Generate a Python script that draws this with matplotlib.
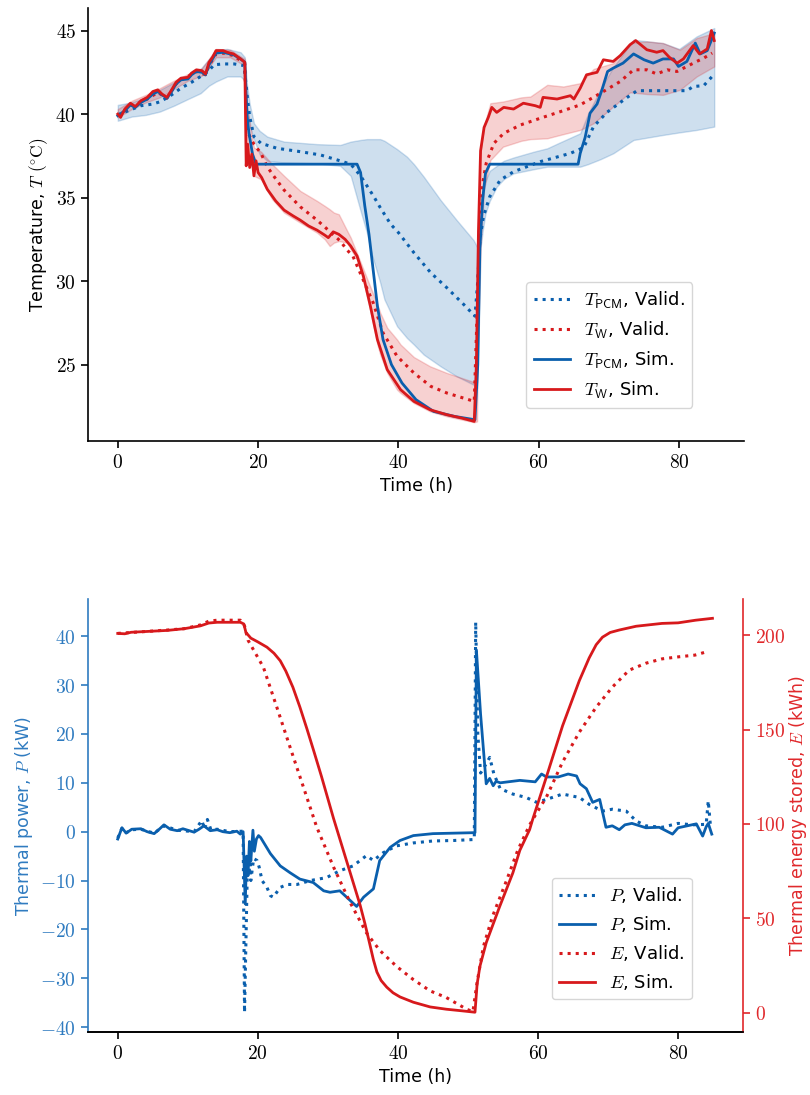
import matplotlib
matplotlib.use("Agg")
import matplotlib.pyplot as plt
from matplotlib.ticker import FuncFormatter

# ---- top panel: temperatures ----
t_w_sim = [0, 0.4, 1.0, 1.8, 2.5, 3.3, 4.2, 5.0, 5.7, 6.3, 7.0, 7.6, 8.3, 9.0, 10.0, 10.5,
           11.2, 12.0, 12.5, 13.0, 13.5, 14.0, 15.0, 15.6, 16.5, 17.5, 18.1, 18.3, 18.5,
           18.8, 19.1, 19.4, 19.7, 20.0, 20.5, 21.3, 22.5, 23.7, 25.0, 26.0, 27.2, 28.4,
           29.5, 30.0, 30.7, 31.5, 32.4, 33.2, 34.1, 35.0, 36.0, 37.0, 38.4, 40.3, 42.2,
           44.5, 46.9, 49.0, 50.8, 51.1, 51.4, 51.7, 52.2, 52.8, 53.3, 54.0, 55.0, 56.4,
           57.8, 59.5, 60.2, 60.6, 62.6, 64.5, 65.0, 65.9, 66.8, 68.3, 69.2, 70.6, 71.6,
           73.0, 73.8, 75.4, 76.8, 77.7, 78.6, 79.7, 80.6, 82.0, 82.9, 84.0, 84.6, 85.0]
T_w_sim = [40.0, 39.8, 40.3, 40.65, 40.45, 40.8, 41.0, 41.35, 41.45, 41.2, 41.0, 41.4, 41.9,
           42.15, 42.2, 42.45, 42.65, 42.6, 42.4, 43.1, 43.4, 43.8, 43.8, 43.7, 43.6, 43.3,
           43.1, 36.9, 38.2, 36.8, 37.6, 36.3, 37.2, 36.5, 36.2, 35.5, 34.8, 34.25, 33.9,
           33.65, 33.3, 33.05, 32.75, 32.6, 32.95, 32.8, 32.5, 32.1, 31.5, 30.3, 28.5, 26.5,
           24.7, 23.5, 22.8, 22.3, 22.0, 21.8, 21.6, 25.0, 33.0, 37.8, 39.2, 39.8, 40.4,
           40.1, 40.4, 40.3, 40.65, 40.5, 40.4, 41.0, 40.9, 41.1, 40.9, 41.55, 42.35, 42.5,
           43.25, 43.15, 43.5, 44.15, 44.4, 43.85, 43.7, 43.8, 43.4, 43.05, 43.3, 44.1,
           43.6, 43.9, 45.0, 44.4]

t_pcm_sim = [0, 1.0, 1.8, 2.5, 3.3, 4.2, 5.0, 5.7, 6.3, 7.0, 7.6, 8.3, 9.0, 10.0, 10.5, 11.2,
             12.0, 12.5, 13.0, 14.0, 15.0, 16.5, 17.5, 18.1, 18.4, 18.7, 19.2, 19.7, 34.1,
             34.6, 35.2, 35.8, 36.3, 37.0, 37.8, 39.0, 40.5, 42.5, 45.0, 48.0, 50.9, 51.3,
             51.6, 52.0, 52.4, 53.0, 65.6, 65.9, 66.6, 67.3, 68.3, 69.0, 69.8, 70.6, 72.0,
             73.5, 75.0, 76.3, 77.7, 79.2, 79.9, 81.1, 82.3, 83.0, 84.0, 85.0]
T_pcm_sim = [39.9, 40.2, 40.55, 40.4, 40.7, 40.9, 41.2, 41.35, 41.15, 40.95, 41.3, 41.8,
             42.05, 42.1, 42.35, 42.55, 42.5, 42.35, 42.95, 43.65, 43.7, 43.55, 43.3, 43.1,
             40.0, 38.85, 37.6, 37.0, 37.0, 36.5, 34.5, 32.8, 31.0, 28.5, 26.5, 25.0, 23.9,
             22.9, 22.2, 21.9, 21.7, 25.0, 32.0, 34.9, 36.45, 37.0, 37.0, 37.65, 38.6, 40.05,
             40.6, 41.45, 42.55, 42.75, 43.05, 43.6, 43.25, 43.05, 43.3, 43.3, 42.85, 43.15,
             44.25, 43.6, 43.8, 44.85]

t_pcm_val = [0, 1.5, 3.3, 5.0, 6.1, 7.5, 9.0, 10.5, 11.8, 13.0, 13.7, 15.0, 16.6, 18.0, 18.5,
             18.8, 19.4, 20.4, 22.7, 26.0, 28.9, 31.3, 33.2, 34.6, 36.5, 37.4, 38.9, 40.0,
             42.2, 44.6, 46.9, 49.3, 50.9, 51.3, 51.6, 52.1, 53.0, 54.5, 56.4, 60.2, 64.5,
             66.4, 67.8, 69.7, 72.6, 74.0, 76.3, 79.2, 81.1, 82.0, 83.5, 84.7]
T_pcm_val = [39.95, 40.2, 40.5, 40.6, 40.75, 41.1, 41.55, 41.9, 42.25, 42.6, 42.95, 43.0,
             43.0, 42.9, 40.85, 39.85, 38.65, 38.25, 37.95, 37.75, 37.55, 37.25, 37.0, 36.3,
             35.05, 34.4, 33.4, 32.9, 31.7, 30.5, 29.6, 28.6, 27.9, 30.0, 32.5, 33.85, 35.05,
             36.05, 36.55, 37.15, 37.65, 38.0, 39.25, 40.1, 41.0, 41.4, 41.4, 41.4, 41.4,
             41.65, 41.7, 42.25]

t_w_val = [0, 1.0, 1.8, 3.3, 4.2, 5.7, 7.0, 8.3, 9.0, 10.5, 11.2, 12.5, 13.0, 14.0, 15.0,
           16.5, 17.5, 18.1, 18.4, 19.4, 20.4, 21.3, 22.2, 23.7, 26.0, 28.4, 30.0, 31.7,
           32.7, 33.5, 35.0, 36.4, 37.8, 39.8, 42.2, 44.6, 46.9, 50.8, 51.2, 51.6, 52.0,
           52.5, 53.6, 55.0, 57.4, 60.2, 63.1, 65.9, 68.8, 71.6, 73.5, 75.4, 76.8, 78.3,
           79.7, 81.1, 82.5, 83.5, 84.7]
T_w_val = [39.9, 40.2, 40.5, 40.7, 40.9, 41.3, 40.95, 41.8, 42.05, 42.35, 42.55, 42.35,
           42.9, 43.6, 43.65, 43.5, 43.2, 43.0, 39.0, 38.2, 37.65, 36.85, 36.3, 35.45, 34.45,
           33.65, 33.05, 32.4, 31.85, 31.5, 30.05, 28.7, 26.9, 25.5, 24.5, 23.7, 23.3, 22.8,
           28.0, 33.0, 35.85, 37.05, 38.25, 38.85, 39.35, 39.75, 40.15, 40.55, 41.25, 41.95,
           42.65, 42.65, 42.4, 42.65, 42.55, 42.85, 43.15, 43.35, 43.65]

# validation ranges (shaded)
t_pcm_band = [0, 2, 4, 6, 8, 10, 11.8, 13, 14, 15.6, 17.5, 18.1, 18.4, 18.8, 19.4, 20.2,
              21.3, 23.7, 28.4, 31.7, 33.2, 34.6, 35.5, 36.2, 37.4, 38.0, 39.8, 41.2, 42.2,
              43.6, 46.0, 48.3, 50.7, 51.2, 51.5, 51.7, 52.0, 52.4, 53.0, 54.0, 55.0, 56.4,
              59.3, 61.2, 63.0, 65.9, 67.0, 68.8, 70.6, 73.5, 77.7, 80.0, 82.5, 85.0]
pcm_lo = [39.6, 39.85, 39.95, 40.15, 40.5, 40.9, 41.25, 41.7, 41.95, 42.25, 42.25, 42.0,
          40.5, 39.3, 38.5, 37.6, 37.2, 37.1, 37.05, 36.9, 36.3, 34.2, 32.9, 31.6, 29.9,
          28.9, 27.3, 26.6, 26.2, 25.6, 24.9, 24.3, 23.8, 23.6, 28.0, 32.0, 33.0, 34.05,
          34.8, 35.65, 36.1, 36.45, 36.7, 36.85, 36.85, 36.85, 37.0, 37.3, 37.65, 38.45,
          38.75, 38.9, 39.05, 39.25]
pcm_hi = [40.55, 40.7, 41.0, 41.45, 41.9, 42.3, 42.7, 43.3, 43.85, 43.9, 43.7, 43.4, 41.8,
          40.6, 39.45, 39.0, 38.65, 38.35, 38.2, 38.15, 38.35, 38.45, 38.5, 38.5, 38.5, 38.4,
          37.9, 37.45, 37.0, 36.25, 34.85, 33.65, 32.45, 32.05, 33.0, 34.0, 35.5, 36.0,
          36.6, 36.9, 37.2, 37.4, 37.75, 37.95, 38.3, 38.85, 40.0, 41.5, 42.8, 44.45, 44.25,
          43.9, 44.65, 45.15]

t_w_band = [0, 2, 4, 6, 8, 10, 12, 13, 14, 16, 18.1, 18.4, 19.4, 20.4, 22.0, 23.7, 26.0,
            28.4, 29.5, 30.2, 30.8, 31.5, 32.7, 33.2, 34.1, 35.0, 36.0, 37.0, 37.4, 38.4,
            39.8, 40.3, 42.2, 44.5, 46.9, 50.8, 51.2, 51.3, 51.7, 52.2, 53.1, 54.9, 57.5,
            58.8, 61.2, 63.5, 65.9, 67.8, 70.6, 73.0, 75.4, 77.7, 80.1, 82.5, 85.0]
w_lo = [39.8, 40.3, 40.7, 41.0, 41.5, 42.0, 42.3, 42.8, 43.4, 43.4, 42.9, 38.5, 36.3, 36.1,
        34.9, 34.1, 33.5, 32.9, 32.5, 32.1, 32.3, 32.4, 32.3, 31.9, 31.3, 30.0, 28.2, 26.2,
        25.6, 24.5, 23.5, 23.3, 22.7, 22.2, 21.9, 21.55, 21.6, 26.0, 32.0, 35.5, 37.25,
        38.05, 38.4, 38.5, 38.55, 38.8, 39.05, 39.45, 40.45, 41.3, 41.2, 41.15, 41.45,
        42.25, 42.85]
w_hi = [40.3, 40.8, 41.15, 41.55, 42.0, 42.4, 42.75, 43.3, 43.9, 43.85, 43.3, 40.5, 38.0,
        37.75, 37.0, 36.3, 35.4, 34.8, 34.5, 34.3, 34.1, 34.0, 33.0, 32.6, 31.65, 30.7,
        29.65, 28.6, 28.1, 27.2, 26.5, 26.2, 25.45, 24.9, 24.5, 23.95, 23.95, 33.0, 37.8,
        39.3, 40.65, 40.75, 41.0, 41.05, 41.75, 41.65, 41.85, 42.7, 43.05, 44.25, 44.35,
        44.25, 43.85, 44.55, 44.85]

# ---- bottom panel: power and energy ----
t_p_sim = [0, 0.6, 1.2, 2.0, 3.3, 4.2, 5.2, 6.0, 6.6, 7.5, 8.5, 9.3, 10.9, 11.6, 12.3, 13.2,
           14.2, 15.0, 16.0, 17.0, 17.5, 17.9, 18.2, 18.4, 18.6, 18.8, 19.0, 19.3, 19.5,
           19.8, 20.1, 20.4, 21.8, 23.2, 24.6, 26.0, 27.9, 29.4, 30.3, 31.7, 33.2, 34.1,
           35.1, 36.5, 37.4, 38.9, 40.3, 42.2, 45.0, 48.0, 51.0, 51.2, 51.8, 52.6, 53.1,
           53.6, 54.0, 54.6, 57.4, 59.6, 60.5, 61.2, 62.9, 64.3, 65.5, 66.0, 66.9, 67.8,
           68.8, 69.7, 70.6, 71.6, 72.4, 73.4, 75.4, 77.3, 79.2, 80.0, 82.6, 83.5, 84.0,
           84.3, 84.8]
P_sim = [-1.5, 0.8, -0.3, 0.5, 0.6, 0.0, -0.4, 0.6, 1.4, 0.5, 0.2, 0.6, -0.1, 0.5, 1.2, 0.2,
         0.4, 0.0, -0.2, 0.1, -0.5, 0.0, -14.8, -5.0, -9.0, -2.0, -6.0, 0.3, -4.0, -1.5,
         -0.8, -1.2, -4.5, -7.0, -8.4, -9.7, -10.4, -12.1, -12.4, -12.1, -14.1, -15.3,
         -13.4, -11.7, -5.9, -3.2, -1.8, -0.8, -0.4, -0.3, -0.2, 37.2, 24.0, 9.8, 10.9, 9.4,
         10.3, 10.0, 10.5, 10.2, 11.8, 11.2, 11.2, 11.8, 11.4, 9.8, 8.8, 6.0, 6.6, 0.9, 1.2,
         0.4, 1.4, 1.7, 0.8, 0.9, -0.5, 0.8, 1.6, -0.9, 1.0, 1.7, -0.5]

t_p_val = [0, 0.6, 1.2, 2.0, 3.3, 4.2, 5.2, 6.6, 8.5, 10.9, 12.0, 12.4, 12.8, 13.3, 14.2,
           16.0, 17.9, 18.1, 18.5, 18.7, 18.9, 19.0, 19.4, 19.9, 20.2, 20.6, 21.3, 21.8,
           22.2, 23.2, 24.2, 25.6, 27.5, 29.8, 31.7, 33.6, 35.5, 36.5, 37.9, 39.8, 42.2,
           45.0, 48.0, 50.9, 51.1, 51.4, 51.8, 52.6, 53.1, 53.7, 54.6, 56.4, 58.3, 59.8,
           61.2, 63.5, 65.9, 67.3, 69.2, 70.6, 72.6, 74.0, 75.4, 77.7, 80.0, 82.0, 84.0,
           84.3, 84.6]
P_val = [-1.3, 0.7, -0.2, 0.4, 0.5, 0.1, -0.3, 1.2, 0.3, 0.0, 2.3, 0.5, 2.5, 0.4, 0.5, 0.0,
         0.1, -37.0, -8.0, -8.6, -6.5, -10.0, -5.5, -5.9, -7.3, -10.0, -11.4, -13.1, -13.4,
         -11.4, -10.8, -10.8, -10.0, -9.4, -8.0, -7.0, -4.9, -5.9, -4.3, -2.9, -2.3, -1.9,
         -1.8, -1.6, 42.9, 20.0, 12.0, 13.9, 15.2, 11.8, 8.8, 7.7, 7.0, 6.0, 6.6, 7.7, 7.0,
         5.6, 4.2, 4.6, 4.2, 2.2, 1.2, 0.9, 1.7, 1.4, 1.5, 6.3, 1.4]

t_e_sim = [0, 1.0, 1.9, 4.0, 7.1, 9.5, 11.8, 13.0, 14.2, 17.5, 18.0, 18.3, 19.0, 20.0, 21.3,
           22.3, 23.2, 24.0, 25.0, 26.0, 27.0, 28.0, 29.1, 30.8, 32.7, 34.6, 35.3, 36.0,
           36.5, 37.0, 37.6, 38.4, 39.3, 40.3, 42.2, 44.6, 46.9, 49.0, 51.0, 51.3, 51.7,
           52.6, 54.5, 56.4, 57.4, 58.8, 59.2, 61.2, 63.5, 65.9, 67.3, 68.3, 69.2, 70.3,
           71.6, 74.0, 77.7, 80.0, 82.5, 84.9]
E_sim = [201, 200.8, 201.6, 202, 202.6, 203.5, 205, 206.5, 206.9, 206.9, 206.0, 201.5,
         198.5, 196.5, 193.7, 190.5, 186.5, 181, 172.5, 162, 150.5, 138.5, 125, 103, 80, 57,
         47, 36, 28, 21.5, 17, 13.5, 10.5, 8.3, 5.5, 3.0, 1.8, 1.0, 0.2, 15, 24.5, 37, 56,
         74, 86, 97, 102, 125, 152, 176, 188, 195, 199, 201.5, 202.8, 204.8, 206.3, 206.6,
         208, 209]

t_e_val = [0, 1.9, 4.0, 7.1, 9.5, 11.8, 13.0, 14.2, 17.5, 18.1, 18.6, 20.8, 22.7, 24.6,
           26.5, 28.4, 30.8, 33.2, 35.5, 37.4, 39.8, 42.2, 44.6, 46.9, 49.8, 50.7, 51.3,
           52.2, 53.5, 55.5, 57.1, 58.8, 59.8, 61.2, 63.5, 65.9, 68.3, 70.6, 73.0, 75.4,
           77.7, 80.1, 82.4, 84.3]
E_val = [201, 201.5, 202, 202.8, 203.5, 205.5, 207.5, 208, 208, 205, 197.4, 183, 162,
         140.7, 119.6, 98.4, 77.2, 58.2, 42.3, 33, 24.5, 17.5, 11.5, 8, 1.8, 0.5, 16, 35,
         51, 70, 86, 99.5, 105.8, 114.3, 132.8, 148.7, 161.9, 172.5, 181.5, 185.2, 187.5,
         188.6, 189.5, 191.5]

BLUE = '#0a5fad'
RED = '#d7191c'
BLUE_AX = '#2f7bc0'
RED_AX = '#e0282b'

plt.rcParams['mathtext.fontset'] = 'cm'
plt.rcParams['font.family'] = ['DejaVu Sans']
plt.rcParams['font.size'] = 12.5
plt.rcParams['axes.linewidth'] = 1.2
plt.rcParams['xtick.major.width'] = 1.2
plt.rcParams['ytick.major.width'] = 1.2
plt.rcParams['xtick.major.size'] = 5
plt.rcParams['ytick.major.size'] = 5

mfmt = FuncFormatter(lambda v, p: '$%g$' % v)

fig = plt.figure(figsize=(8.1, 10.95), dpi=100)

# top
ax1 = fig.add_axes([0.1086, 0.5973, 0.81, 0.3954])
ax1.fill_between(t_pcm_band, pcm_lo, pcm_hi, color=BLUE, alpha=0.2, lw=1)
ax1.fill_between(t_w_band, w_lo, w_hi, color=RED, alpha=0.2, lw=1)
ax1.plot(t_pcm_val, T_pcm_val, ':', color=BLUE, lw=2.2, label=r'$T_{\mathsf{PCM}}$, Valid.')
ax1.plot(t_w_val, T_w_val, ':', color=RED, lw=2.2, label=r'$T_{\mathsf{W}}$, Valid.')
ax1.plot(t_pcm_sim, T_pcm_sim, '-', color=BLUE, lw=2, label=r'$T_{\mathsf{PCM}}$, Sim.')
ax1.plot(t_w_sim, T_w_sim, '-', color=RED, lw=2, label=r'$T_{\mathsf{W}}$, Sim.')
ax1.set_xlim(-4.25, 89.25)
ax1.set_ylim(20.43, 46.35)
ax1.set_xticks([0, 20, 40, 60, 80])
ax1.set_yticks([25, 30, 35, 40, 45])
ax1.xaxis.set_major_formatter(mfmt)
ax1.yaxis.set_major_formatter(mfmt)
ax1.tick_params(labelsize=14)
ax1.spines['top'].set_visible(False)
ax1.spines['right'].set_visible(False)
ax1.set_xlabel('Time (h)')
ax1.set_ylabel(r'Temperature, $T$ $(^{\circ}\mathrm{C})$')
ax1.legend(loc='lower right', bbox_to_anchor=(0.921, 0.076), borderaxespad=0,
           fontsize=13, handlelength=2.0, framealpha=0.8, edgecolor='#cccccc')

# bottom
ax2 = fig.add_axes([0.1086, 0.0575, 0.8086, 0.3954])
ax3 = ax2.twinx()
l1, = ax2.plot(t_p_val, P_val, ':', color=BLUE, lw=2.2, label=r'$P$, Valid.')
l2, = ax2.plot(t_p_sim, P_sim, '-', color=BLUE, lw=2, label=r'$P$, Sim.')
l3, = ax3.plot(t_e_val, E_val, ':', color=RED, lw=2.2, label=r'$E$, Valid.')
l4, = ax3.plot(t_e_sim, E_sim, '-', color=RED, lw=2, label=r'$E$, Sim.')
ax2.set_xlim(-4.25, 89.25)
ax2.set_ylim(-41.0, 47.6)
ax3.set_ylim(-10.3, 219.2)
ax2.set_xticks([0, 20, 40, 60, 80])
ax2.set_yticks([-40, -30, -20, -10, 0, 10, 20, 30, 40])
ax3.set_yticks([0, 50, 100, 150, 200])
for a in (ax2, ax3):
    a.xaxis.set_major_formatter(mfmt)
    a.yaxis.set_major_formatter(mfmt)
    a.tick_params(labelsize=14)
    a.spines['top'].set_visible(False)
ax2.spines['right'].set_visible(False)
ax3.spines['left'].set_visible(False)
ax2.spines['left'].set_color(BLUE_AX)
ax3.spines['right'].set_color(RED_AX)
ax2.tick_params(axis='y', colors=BLUE_AX)
ax3.tick_params(axis='y', colors=RED_AX)
ax2.set_xlabel('Time (h)')
ax2.set_ylabel(r'Thermal power, $P$ (kW)', color=BLUE_AX)
ax3.set_ylabel(r'Thermal energy stored, $E$ (kWh)', color=RED_AX, labelpad=1)
ax3.legend([l1, l2, l3, l4], [l.get_label() for l in (l1, l2, l3, l4)],
           loc='lower right', bbox_to_anchor=(0.922, 0.076), borderaxespad=0,
           fontsize=13, handlelength=2.0, framealpha=0.8, edgecolor='#cccccc')

fig.savefig('out.png', dpi=100)
